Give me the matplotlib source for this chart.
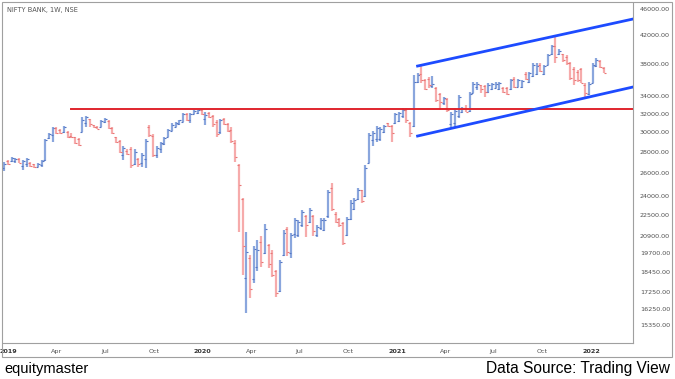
import matplotlib
matplotlib.use('Agg')
import matplotlib.pyplot as plt
import numpy as np
import pandas as pd
from matplotlib.patches import Rectangle
from matplotlib.ticker import NullLocator, NullFormatter

# weekly bars, NIFTY BANK, starting week of 24 Dec 2018
opens = np.array([
    26450, 27150, 27100, 27100, 27350, 26700, 26900, 27000, 26850, 26600,
    26800, 27200, 29400, 29700, 30400, 30200, 30000, 30050, 29600, 29450,
    29250, 30050, 31000, 31350, 30750, 30550, 30550, 31100, 31200, 30400,
    29450, 29100, 27700, 28100, 28300, 26900, 27350, 26950, 27300, 30500,
    29600, 27750, 28300, 28800, 29500, 30150, 30550, 30900, 31100, 31900,
    31250, 32000, 32100, 32350, 31400, 32050, 31700, 31100, 30000, 31400,
    30900, 30200, 28900, 26800, 23800, 18100, 19400, 18000, 18800, 20500,
    19700, 20300, 19700, 18500, 17300, 19600, 21400, 19750, 21100, 21000,
    21700, 22450, 21950, 22400, 21000, 21500, 21350, 22400, 24700, 22600,
    22200, 21900, 21000, 22200, 23000, 23800, 24500, 24000, 27000, 29200,
    29300, 29300, 30000, 30950, 30700, 31000, 31200, 31700, 32400, 30950,
    30700, 35700, 36700, 36000, 36100, 35200, 35000, 34200, 33200, 33700,
    30900, 31000, 31700, 32150, 32600, 32300, 34400, 35100, 35300, 35200,
    34500, 34800, 35000, 34800, 35000, 35000, 34800, 36100, 35150, 35100,
    36700, 35700, 36400, 36700, 37900, 36700, 37900, 39300, 40500, 39300,
    39300, 39000, 38200, 37400, 37000, 37300, 35300, 34300, 35600, 37800,
    38400, 37500])
highs = np.array([
    27050, 27230, 27500, 27450, 27400, 27230, 27400, 27050, 26900, 26950,
    27230, 29300, 29950, 30500, 30500, 30300, 30600, 30100, 29900, 29500,
    29400, 31650, 31750, 31400, 30800, 30600, 31300, 31500, 31300, 30500,
    29500, 29200, 28550, 28250, 28450, 28250, 27400, 27900, 29300, 30800,
    29850, 28550, 29000, 29500, 30300, 31000, 31050, 31300, 32100, 32050,
    32100, 32400, 32400, 32400, 32150, 32150, 31850, 31300, 31400, 31500,
    30950, 30550, 29200, 26900, 23850, 21200, 19600, 20200, 20650, 20900,
    21800, 20350, 19950, 18600, 19250, 21350, 21550, 21150, 22250, 22100,
    22900, 22500, 23050, 22500, 21700, 22250, 22250, 24550, 25150, 22700,
    22250, 21950, 22350, 23700, 23850, 24700, 24550, 26750, 29950, 30100,
    30600, 30500, 30800, 31000, 30800, 32100, 32200, 32600, 32600, 31050,
    36600, 36800, 37700, 36100, 36300, 36450, 35100, 34350, 33900, 33800,
    32200, 32600, 34100, 32750, 32950, 34500, 35700, 35700, 35350, 35350,
    35550, 35550, 35700, 35700, 35100, 35100, 36100, 36300, 36100, 35950,
    36950, 36950, 38100, 38100, 38100, 37850, 39400, 40600, 41850, 40000,
    39400, 39200, 38300, 37600, 37200, 37450, 35550, 35700, 38100, 38800,
    38550, 37600])
lows = np.array([
    26250, 26770, 27050, 26950, 26950, 26300, 26600, 26600, 26450, 26550,
    26600, 27100, 29300, 29000, 29850, 29850, 29950, 29400, 29350, 28750,
    28550, 30000, 30550, 30550, 30400, 30300, 30500, 31000, 30300, 29850,
    28900, 27900, 27250, 27750, 26500, 26800, 26600, 26600, 26500, 29450,
    27550, 27400, 27900, 28700, 29450, 30100, 30500, 30800, 31050, 31150,
    31000, 31950, 32000, 31850, 30750, 31500, 30550, 29500, 29800, 30750,
    30000, 28900, 27050, 21200, 18300, 16000, 16850, 17800, 18500, 18800,
    19650, 18700, 18150, 16950, 17200, 19500, 19500, 19400, 20800, 20850,
    21600, 20850, 21900, 20900, 20850, 21350, 21250, 22250, 22800, 21900,
    21600, 20250, 20900, 22100, 22900, 23700, 23450, 23950, 26950, 28550,
    29000, 29050, 29950, 30500, 28950, 30900, 31100, 31500, 30950, 29500,
    30500, 35600, 35600, 34700, 34950, 34950, 33300, 32400, 32950, 32150,
    30450, 30550, 31500, 32050, 32150, 32150, 34350, 34700, 34350, 33900,
    34350, 34700, 34950, 34700, 34350, 34100, 34700, 34950, 35050, 34950,
    35950, 35550, 36300, 36550, 36950, 36550, 37850, 39200, 38200, 39200,
    38300, 37850, 35950, 35350, 35700, 35550, 33900, 34100, 35550, 37600,
    37450, 36800])
closes = np.array([
    26900, 26850, 27400, 27350, 27000, 27150, 27300, 26700, 26550, 26900,
    27150, 29150, 29800, 30400, 29950, 29950, 30500, 29500, 29450, 28900,
    28700, 31300, 31600, 30900, 30500, 30350, 31200, 31400, 30400, 29900,
    29000, 28000, 28400, 27800, 26800, 28050, 26900, 27700, 29100, 29700,
    27700, 28400, 28850, 29400, 30200, 30800, 30950, 31250, 31900, 31300,
    32000, 32300, 32350, 32000, 31800, 31600, 30900, 29800, 31300, 30900,
    30150, 29100, 27500, 25000, 20200, 19800, 17400, 20000, 19900, 19100,
    21400, 19000, 18300, 17150, 19100, 21150, 19800, 21000, 22100, 22000,
    22700, 21750, 22900, 21300, 21600, 22100, 22100, 24400, 23000, 22000,
    21700, 20450, 22200, 23500, 23700, 24500, 23600, 26500, 29700, 29900,
    30400, 30300, 30700, 30600, 29900, 31900, 32100, 32450, 31250, 29900,
    35700, 36600, 35900, 34900, 35300, 35500, 33600, 33300, 33800, 32450,
    32000, 32300, 33900, 32650, 32200, 34300, 35500, 35400, 34800, 34500,
    35300, 35400, 35500, 35600, 34500, 34200, 35900, 35100, 35900, 35800,
    36100, 36800, 37900, 37800, 37100, 37700, 39200, 40400, 39000, 39800,
    38500, 38100, 36200, 36000, 35900, 35600, 34400, 35500, 37900, 38600,
    37600, 36900])

# drawn levels: resistance and rising channel
resistance_level = 32500
resistance_start = '2019-04-29'
channel_start = '2021-02-08'
channel_upper = [37740, 44430]
channel_lower = [29600, 35090]

price_ticks = [15350, 16250, 17250, 18450, 19700, 20900, 22500, 24000,
               26000, 28000, 30000, 32000, 34000, 38000, 42000, 46000]
date_ticks = ['2019-01-01', '2019-04-01', '2019-07-01', '2019-10-01',
              '2020-01-01', '2020-04-01', '2020-07-01', '2020-10-01',
              '2021-01-01', '2021-04-01', '2021-07-01', '2021-10-01',
              '2022-01-01']
date_labels = ['2019', 'Apr', 'Jul', 'Oct', '2020', 'Apr', 'Jul', 'Oct',
               '2021', 'Apr', 'Jul', 'Oct', '2022']

UP, UP_DARK = '#8aa6dd', '#5577c4'
DN, DN_DARK = '#f6abab', '#e97676'
GRID = '#a0a0a0'

W, H = 675, 379
fig = plt.figure(figsize=(W / 100, H / 100), dpi=100)
ax = fig.add_axes([3 / W, 1 - 343 / H, 630 / W, 340 / H])

dates = pd.date_range('2018-12-24', periods=len(closes), freq='7D')
up = closes >= opens
for mask, c, cd in [(up, UP, UP_DARK), (~up, DN, DN_DARK)]:
    ax.vlines(dates[mask], lows[mask], highs[mask], color=c, lw=1.6)
    ax.plot(dates[mask], opens[mask], ls='none', marker=0, ms=1.1, mew=0.8, color=cd)
    ax.plot(dates[mask], closes[mask], ls='none', marker=1, ms=1.1, mew=0.8, color=cd)

x0 = pd.Timestamp('2018-12-21 14:00')
x1 = pd.Timestamp('2022-03-20')

ax.plot([pd.Timestamp(resistance_start), x1], [resistance_level] * 2,
        color='#e0252d', lw=1.4, zorder=3)
ax.plot([pd.Timestamp(channel_start), x1], channel_upper, color='#1d4bff', lw=2.0, zorder=3)
ax.plot([pd.Timestamp(channel_start), x1], channel_lower, color='#1d4bff', lw=2.0, zorder=3)

ax.set_yscale('log')
ax.set_ylim(14430, 46970)
ax.set_xlim(x0, x1)
ax.yaxis.set_minor_locator(NullLocator())
ax.yaxis.set_minor_formatter(NullFormatter())
ax.set_yticks(price_ticks)
ax.set_yticklabels([f'{v:.2f}' for v in price_ticks])
ax.yaxis.tick_right()
ax.set_xticks(pd.to_datetime(date_ticks))
ax.set_xticklabels(date_labels)
ax.xaxis.set_minor_locator(NullLocator())
ax.tick_params(axis='y', length=0, pad=5, labelsize=4.6, labelcolor='#505050')
ax.tick_params(axis='x', length=0, pad=4, labelsize=4.6, labelcolor='#505050')
for lab in ax.get_xticklabels():
    if lab.get_text().isdigit():
        lab.set_fontweight('bold')
        lab.set_color('#333333')

for s in ['top', 'left']:
    ax.spines[s].set_visible(False)
for s in ['right', 'bottom']:
    ax.spines[s].set_color(GRID)
    ax.spines[s].set_linewidth(0.8)

fig.add_artist(Rectangle((2 / W, 1 - 357 / H), 670 / W, 355 / H, transform=fig.transFigure,
                         fill=False, ec=GRID, lw=0.8))

fig.text(7 / W, 1 - 10 / H, 'NIFTY BANK, 1W, NSE', fontsize=4.8, color='#555555', va='center')
fig.text(4 / W, 1 - 369 / H, 'equitymaster', fontsize=10.5, family='Liberation Sans', va='center')
fig.text(670 / W, 1 - 369 / H, 'Data Source: Trading View', fontsize=11.2,
         family='Liberation Sans', va='center', ha='right')

fig.savefig('out.png', dpi=100)
